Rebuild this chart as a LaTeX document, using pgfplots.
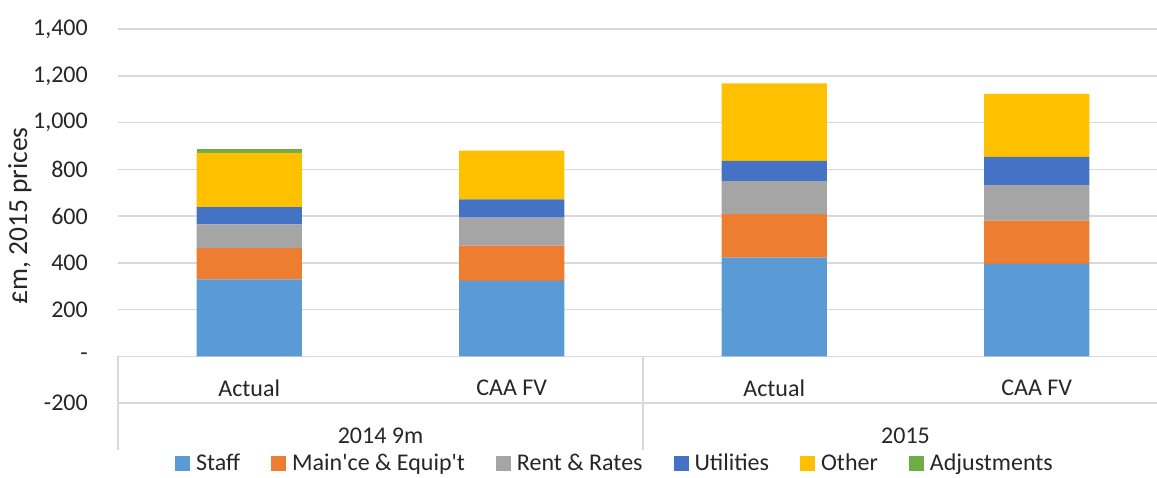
\documentclass[border=0pt]{standalone}
\usepackage{pgfplots}
\pgfplotsset{compat=1.18}
\usepackage{pgfplotstable}
\usepackage{fontspec}
\setmainfont{Carlito}[Ligatures=TeXOff]
\definecolor{cStaff}{HTML}{5B9BD5}
\definecolor{cMaint}{HTML}{ED7D31}
\definecolor{cRent}{HTML}{A5A5A5}
\definecolor{cUtil}{HTML}{4472C4}
\definecolor{cOther}{HTML}{FFC000}
\definecolor{cAdj}{HTML}{70AD47}
\definecolor{gridgray}{HTML}{D9D9D9}
\definecolor{txt}{HTML}{262626}
\pgfplotstableread{
x staff maint rent util other adj
0 330 133 102 73 232 15
1 323 151 119 79 208 0
2 423 186 141 86 331 0
3 396 185 152 120 270 0
}\datatable
\begin{document}
\fontsize{24}{28}\selectfont
\begin{tikzpicture}[x=1pt,y=1pt]
\path[use as bounding box] (0,0) rectangle (1157,477);
\begin{axis}[
  at={(118pt,27pt)}, anchor=south west,
  scale only axis, width=1050pt, height=421pt,
  ybar stacked, bar width=105pt,
  xmin=-0.5, xmax=3.5, ymin=-400, ymax=1400,
  xtick=\empty,
  ytick={-200,0,200,400,600,800,1000,1200,1400},
  yticklabels={-200,-,200,400,600,800,{1,000},{1,200},{1,400}},
  yticklabel style={xshift=-22pt, text=txt, font=\fontsize{24}{28}\selectfont},
  ymajorgrids, grid style={draw=gridgray, line width=1.5pt},
  axis line style={draw=none},
  major tick length=0pt,
  clip=false,
  legend columns=-1,
  legend style={draw=none, fill=none, at={(0.4733,-0.033)}, anchor=center,
    font=\fontsize{24}{28}\selectfont, text=txt,
    /tikz/every odd column/.append style={column sep=4pt},
    /tikz/every even column/.append style={column sep=29pt}},
  legend image code/.code={\fill[#1] (0pt,-7.5pt) rectangle (15pt,7.5pt);},
]
\addplot[fill=cStaff, draw=none] table[x=x, y=staff] {\datatable};
\addplot[fill=cMaint, draw=none] table[x=x, y=maint] {\datatable};
\addplot[fill=cRent, draw=none] table[x=x, y=rent] {\datatable};
\addplot[fill=cUtil, draw=none] table[x=x, y=util] {\datatable};
\addplot[fill=cOther, draw=none] table[x=x, y=other] {\datatable};
\addplot[fill=cAdj, draw=none] table[x=x, y=adj] {\datatable};
\legend{Staff, Main'ce \& Equip't, Rent \& Rates, Utilities, Other, Adjustments}
\draw[gridgray, line width=1.5pt] (axis cs:-0.5,0) -- (axis cs:-0.5,-400);
\draw[gridgray, line width=1.5pt] (axis cs:1.5,0) -- (axis cs:1.5,-400);
\draw[gridgray, line width=1.5pt] (axis cs:3.5,0) -- (axis cs:3.5,-400);
\draw[gridgray, line width=1.5pt] (axis cs:-0.5,0) -- (axis cs:3.5,0);
\node[text=txt] at (axis cs:0,-134) {Actual};
\node[text=txt] at (axis cs:1,-134) {CAA FV};
\node[text=txt] at (axis cs:2,-134) {Actual};
\node[text=txt] at (axis cs:3,-134) {CAA FV};
\node[text=txt] at (axis cs:0.5,-339) {2014 9m};
\node[text=txt] at (axis cs:2.5,-339) {2015};
\end{axis}
\node[rotate=90, text=txt, font=\fontsize{27.5}{32}\selectfont] at (20,261) {£m, 2015 prices};
\end{tikzpicture}
\end{document}
